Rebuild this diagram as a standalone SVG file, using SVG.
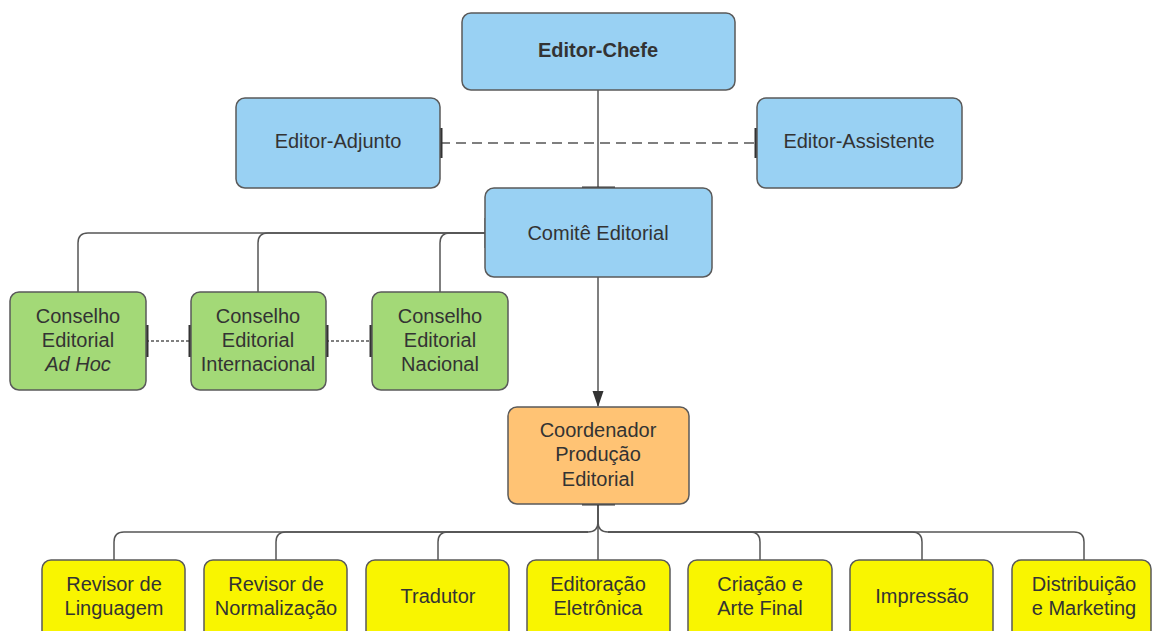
<svg xmlns="http://www.w3.org/2000/svg" width="1153" height="631" viewBox="0 0 1153 631">
<defs>
<style>
.box{stroke:#5a5a5a;stroke-width:1.5}
.blue{fill:#99d1f3}
.green{fill:#a3d977}
.orange{fill:#ffc374}
.yellow{fill:#f9f500}
text{font-family:"Liberation Sans",Arial,sans-serif;font-size:20px;fill:#333;text-anchor:middle}
.ln{fill:none;stroke:#555;stroke-width:1.5}
.stub{stroke:#333;stroke-width:3}
</style>
<marker id="arr" markerWidth="16" markerHeight="12" refX="15" refY="5.5" orient="auto" markerUnits="userSpaceOnUse">
<path d="M0,0 L16,5.5 L0,11 Z" fill="#333"/>
</marker>
</defs>
<rect width="1153" height="631" fill="#fff"/>
<g id="connectors">
<line class="ln" x1="598" y1="90" x2="598" y2="188"/>
<line class="ln" x1="440" y1="143" x2="757" y2="143" stroke-dasharray="10,6"/>
<path class="ln" d="M485,233 H88 Q78,233 78,243 V292"/>
<path class="ln" d="M485,233 H268 Q258,233 258,243 V292"/>
<path class="ln" d="M485,233 H450 Q440,233 440,243 V292"/>
<line class="ln" x1="146" y1="341" x2="191" y2="341" stroke-dasharray="3,2" stroke-width="1"/>
<line class="ln" x1="326" y1="341" x2="372" y2="341" stroke-dasharray="3,2" stroke-width="1"/>
<line class="ln" x1="598" y1="277" x2="598" y2="406" marker-end="url(#arr)"/>
<line class="ln" x1="598" y1="504" x2="598" y2="560"/>
<path class="ln" d="M598,504 V522 Q598,532 588,532 H124 Q114,532 114,542 V560"/>
<path class="ln" d="M588,532 H286 Q276,532 276,542 V560"/>
<path class="ln" d="M588,532 H448 Q438,532 438,542 V560"/>
<path class="ln" d="M598,504 V522 Q598,532 608,532 H1074 Q1084,532 1084,542 V560"/>
<path class="ln" d="M608,532 H750 Q760,532 760,542 V560"/>
<path class="ln" d="M608,532 H912 Q922,532 922,542 V560"/>
<line class="stub" x1="582" y1="188" x2="615" y2="188"/>
<line class="stub" x1="582" y1="504" x2="615" y2="504"/>
<line class="stub" x1="441" y1="128" x2="441" y2="158"/>
<line class="stub" x1="756" y1="128" x2="756" y2="158"/>
<line class="stub" x1="147" y1="325" x2="147" y2="357"/>
<line class="stub" x1="190" y1="325" x2="190" y2="357"/>
<line class="stub" x1="327" y1="325" x2="327" y2="357"/>
<line class="stub" x1="371" y1="325" x2="371" y2="357"/>
<line class="stub" x1="486" y1="218" x2="486" y2="248"/>
</g>
<g id="editor-chefe"><rect class="box blue" x="462" y="13" width="273" height="77" rx="9"/><text x="598" y="57" font-weight="bold" font-size="25">Editor-Chefe</text></g>
<g id="editor-adjunto"><rect class="box blue" x="236" y="98" width="204" height="90" rx="9"/><text x="338" y="148">Editor-Adjunto</text></g>
<g id="editor-assistente"><rect class="box blue" x="757" y="98" width="205" height="90" rx="9"/><text x="859" y="148">Editor-Assistente</text></g>
<g id="comite"><rect class="box blue" x="485" y="188" width="227" height="89" rx="9"/><text x="598" y="240" font-size="22">Comitê Editorial</text></g>
<g id="adhoc"><rect class="box green" x="10" y="292" width="136" height="98" rx="9"/><text x="78" y="323">Conselho</text><text x="78" y="347">Editorial</text><text x="78" y="371" font-style="italic">Ad Hoc</text></g>
<g id="internacional"><rect class="box green" x="191" y="292" width="135" height="98" rx="9"/><text x="258" y="323">Conselho</text><text x="258" y="347">Editorial</text><text x="258" y="371">Internacional</text></g>
<g id="nacional"><rect class="box green" x="372" y="292" width="136" height="98" rx="9"/><text x="440" y="323">Conselho</text><text x="440" y="347">Editorial</text><text x="440" y="371">Nacional</text></g>
<g id="coordenador"><rect class="box orange" x="508" y="407" width="181" height="97" rx="9"/><text x="598" y="437">Coordenador</text><text x="598" y="461">Produção</text><text x="598" y="486">Editorial</text></g>
<g id="revisor-ling"><rect class="box yellow" x="42" y="560" width="143" height="85" rx="9"/><text x="114" y="591">Revisor de</text><text x="114" y="615">Linguagem</text></g>
<g id="revisor-norm"><rect class="box yellow" x="204" y="560" width="143" height="85" rx="9"/><text x="276" y="591">Revisor de</text><text x="276" y="615">Normalização</text></g>
<g id="tradutor"><rect class="box yellow" x="366" y="560" width="143" height="85" rx="9"/><text x="438" y="603">Tradutor</text></g>
<g id="editoracao"><rect class="box yellow" x="527" y="560" width="143" height="85" rx="9"/><text x="598" y="591">Editoração</text><text x="598" y="615">Eletrônica</text></g>
<g id="criacao"><rect class="box yellow" x="688" y="560" width="144" height="85" rx="9"/><text x="760" y="591">Criação e</text><text x="760" y="615">Arte Final</text></g>
<g id="impressao"><rect class="box yellow" x="850" y="560" width="143" height="85" rx="9"/><text x="922" y="603">Impressão</text></g>
<g id="distribuicao"><rect class="box yellow" x="1012" y="560" width="139" height="85" rx="9"/><text x="1084" y="591">Distribuição</text><text x="1084" y="615">e Marketing</text></g>
</svg>
